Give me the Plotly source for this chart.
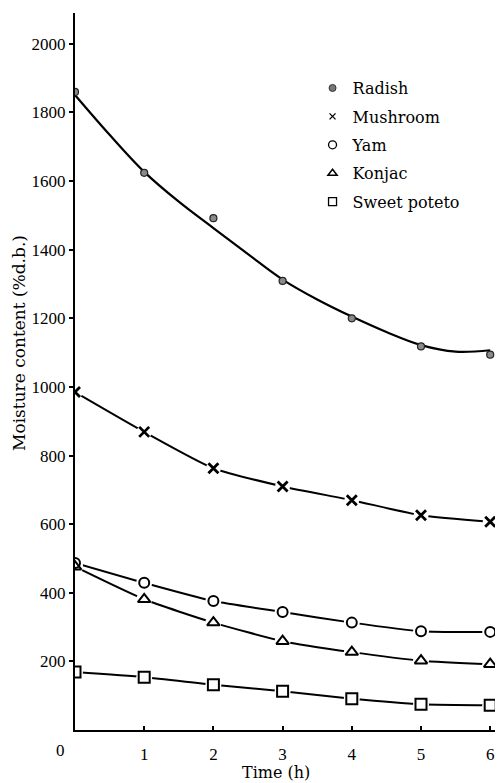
import plotly.graph_objects as go

# ---- data ----
time_h = [0, 1, 2, 3, 4, 5, 6]
radish = [1860, 1624, 1492, 1309, 1200, 1118, 1094]
mushroom = [985, 869, 763, 710, 670, 626, 607]
yam = [487, 429, 376, 344, 313, 288, 286]
konjac = [476, 381, 313, 259, 227, 202, 192]
sweet_potato = [169, 154, 132, 113, 91, 75, 72]

# fitted curve for radish
radish_fit_t = [0, 0.5, 1, 1.5, 2, 2.5, 3, 3.5, 4, 4.5, 5, 5.5, 6]
radish_fit = [1851, 1735, 1627, 1540, 1463, 1387, 1313, 1255, 1205, 1160, 1122, 1103, 1107]

y_ticks = [200, 400, 600, 800, 1000, 1200, 1400, 1600, 1800, 2000]
x_ticks = [1, 2, 3, 4, 5, 6]

series_names = ["Radish", "Mushroom", "Yam", "Konjac", "Sweet poteto"]

SERIF = "DejaVu Serif"
TICKFONT = "Liberation Serif"

fig = go.Figure()

# lines
fig.add_trace(go.Scatter(x=radish_fit_t, y=radish_fit, mode="lines",
                         line=dict(color="black", width=2.2, shape="spline", smoothing=1.0),
                         showlegend=False, hoverinfo="skip"))
for vals in [mushroom, yam, konjac, sweet_potato]:
    fig.add_trace(go.Scatter(x=time_h, y=vals, mode="lines",
                             line=dict(color="black", width=2, shape="spline", smoothing=0.6),
                             showlegend=False, hoverinfo="skip"))

# white halos to create gaps around markers
for vals, sz in [(mushroom, 15), (yam, 16), (konjac, 16), (sweet_potato, 16)]:
    fig.add_trace(go.Scatter(x=time_h, y=vals, mode="markers",
                             marker=dict(symbol="circle", size=sz, color="white"),
                             showlegend=False, hoverinfo="skip"))

# markers
marker_styles = [
    dict(symbol="circle", size=7, color="#8a8a8a", line=dict(color="#222", width=1.2)),
    dict(symbol="x-thin", size=10, color="black", line=dict(color="black", width=2.8)),
    dict(symbol="circle-open", size=10, color="black", line=dict(color="black", width=2)),
    dict(symbol="triangle-up-open", size=11, color="black", line=dict(color="black", width=2)),
    dict(symbol="square-open", size=11, color="black", line=dict(color="black", width=2)),
]
for vals, ms in zip([radish, mushroom, yam, konjac, sweet_potato], marker_styles):
    fig.add_trace(go.Scatter(x=time_h, y=vals, mode="markers", marker=ms,
                             showlegend=False))

# legend entries
legend_styles = [
    dict(symbol="circle", size=7, color="#777", line=dict(color="#333", width=1)),
    dict(symbol="x-thin", size=6, color="black", line=dict(color="black", width=1.3)),
    dict(symbol="circle-open", size=8, color="black", line=dict(color="black", width=1.3)),
    dict(symbol="triangle-up-open", size=8, color="black", line=dict(color="black", width=1.5)),
    dict(symbol="square-open", size=8, color="black", line=dict(color="black", width=1.3)),
]
for name, ms in zip(series_names, legend_styles):
    fig.add_trace(go.Scatter(x=[None], y=[None], mode="markers", name=name,
                             marker=ms, legendgroup=name, showlegend=True))

# page body has an 8px margin: figure starts at (8, 8)
fig.update_layout(
    width=503, height=775,
    margin=dict(l=67, r=8, t=5, b=53),
    paper_bgcolor="white", plot_bgcolor="white",
    showlegend=True,
    legend=dict(x=0.555, y=0.919, xanchor="left", yanchor="top",
                font=dict(family=SERIF, size=16, color="black"),
                bgcolor="rgba(0,0,0,0)", traceorder="grouped", tracegroupgap=4.6,
                itemclick=False),
    xaxis=dict(range=[0, 6.185], showline=True, linecolor="black", linewidth=2,
               showgrid=False, zeroline=False, ticks="inside", ticklen=4, tickwidth=1.5,
               tickcolor="black", tickvals=x_ticks,
               tickfont=dict(family=TICKFONT, size=17, color="black"),
               ticklabelstandoff=8),
    yaxis=dict(range=[0, 2090], showline=True, linecolor="black", linewidth=2,
               showgrid=False, zeroline=False, ticks="outside", ticklen=4, tickwidth=1.5,
               tickcolor="black", tickvals=y_ticks,
               tickfont=dict(family=TICKFONT, size=17, color="black")),
    annotations=[
        dict(text="Time (h)", xref="paper", yref="paper", x=(276 - 75) / 428, y=(730 - 772) / 717,
             xanchor="center", yanchor="middle", showarrow=False,
             font=dict(family=SERIF, size=16, color="black")),
        dict(text="Moisture content (%d.b.)", xref="paper", yref="paper",
             x=(19 - 75) / 428, y=(730 - 343) / 717, textangle=-90,
             xanchor="center", yanchor="middle", showarrow=False,
             font=dict(family=SERIF, size=17, color="black")),
        dict(text="0", xref="paper", yref="paper", x=(60 - 75) / 428, y=(730 - 750) / 717,
             xanchor="center", yanchor="middle", showarrow=False,
             font=dict(family=TICKFONT, size=17, color="black")),
    ],
)

fig.write_html("out.html")
